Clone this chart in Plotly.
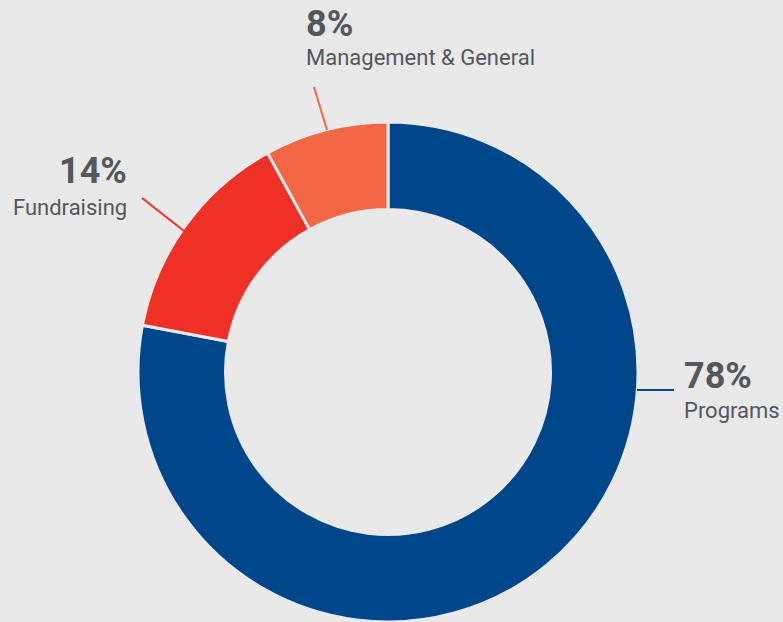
import plotly.graph_objects as go

W, H = 783, 622

labels = ["Programs", "Fundraising", "Management & General"]
values = [78, 14, 8]
colors = ["#00468b", "#ee3124", "#f26743"]

BG = "#e9e9e9"
TEXT = "#54585d"
FONT = "Roboto"


def px_x(x):
    return x / W


def px_y(y):
    return 1 - y / H


fig = go.Figure(
    go.Pie(
        labels=labels,
        values=values,
        hole=0.65,
        sort=False,
        direction="clockwise",
        rotation=0,
        marker=dict(colors=colors, line=dict(color=BG, width=3)),
        textinfo="none",
        hoverinfo="label+percent",
        domain=dict(x=[px_x(138), px_x(638)], y=[0, px_y(122)]),
        showlegend=False,
    )
)

# label placement: x, percent y, name y, anchor, leader line
placements = {
    "Programs": dict(x=682, pct_y=376, name_y=410, anchor="left", line=(637, 390, 674, 390)),
    "Fundraising": dict(x=129, pct_y=171, name_y=207, anchor="right", line=(142, 198, 184, 231)),
    "Management & General": dict(x=304, pct_y=24, name_y=58, anchor="left", line=(314, 87, 327, 130)),
}

for name, val, col in zip(labels, values, colors):
    p = placements[name]
    fig.add_annotation(
        x=px_x(p["x"]), y=px_y(p["pct_y"]), xref="paper", yref="paper",
        xanchor=p["anchor"], yanchor="middle", showarrow=False,
        text=f"<b>{val}%</b>", font=dict(family=FONT, size=36, color=TEXT),
    )
    fig.add_annotation(
        x=px_x(p["x"]), y=px_y(p["name_y"]), xref="paper", yref="paper",
        xanchor=p["anchor"], yanchor="middle", showarrow=False,
        text=name, font=dict(family=FONT, size=22, color=TEXT),
    )
    x0, y0, x1, y1 = p["line"]
    fig.add_shape(
        type="line", xref="paper", yref="paper",
        x0=px_x(x0), y0=px_y(y0), x1=px_x(x1), y1=px_y(y1),
        line=dict(color=col, width=2),
    )

fig.update_layout(
    width=W, height=H,
    margin=dict(l=0, r=0, t=0, b=0),
    paper_bgcolor=BG, plot_bgcolor=BG,
)

fig.write_html(
    "out.html",
    config={"displayModeBar": False},
    post_script="document.body.style.margin='0';document.body.style.background='#e9e9e9';",
)
